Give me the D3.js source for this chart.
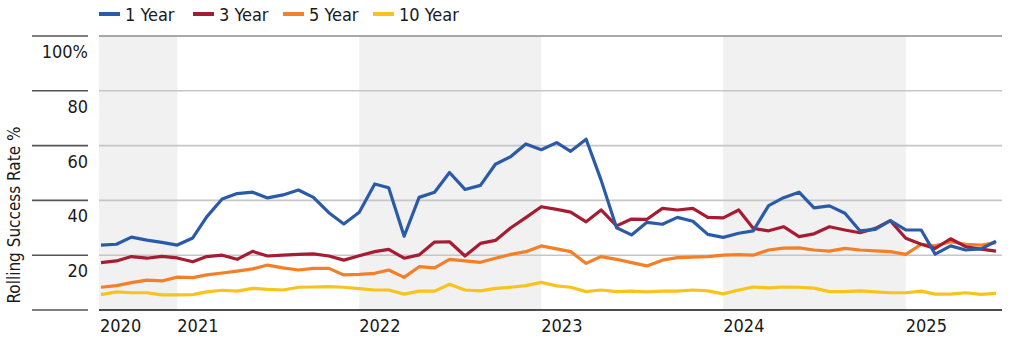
<!DOCTYPE html>
<html>
<head>
<meta charset="utf-8">
<script src="https://cdn.jsdelivr.net/npm/d3@7"></script>
<style>
  html, body { margin: 0; padding: 0; background: #fff; }
  svg text { font-family: "Liberation Sans Narrow", "DejaVu Sans Condensed", "Arial Narrow", sans-serif; fill: #1a1a1a; }
</style>
</head>
<body>
<div id="viz"></div>
<script>
// monthly observations, Aug 2020 - Jul 2025
var startMonth = "2020-08";
var monthCount = 60;

var oneYear = [23.7, 24, 26.6, 25.5, 24.7, 23.7, 26.3, 34, 40.5, 42.5,
  43, 40.9, 42, 43.8, 41.1, 35.5, 31.4, 35.7, 46, 44.6,
  26.9, 41.1, 43, 50.2, 44, 45.5, 53.2, 56, 60.6, 58.5,
  61.1, 57.9, 62.3, 47.4, 30, 27.4, 32, 31.3, 33.8, 32.4,
  27.6, 26.5, 28, 28.9, 38.1, 41, 43, 37.3, 38, 35.3,
  28.9, 29.4, 32.6, 29.2, 29.2, 20.4, 23.4, 21.9, 22.3, 25.1];

var threeYear = [17.3, 17.9, 19.5, 18.9, 19.6, 19, 17.6, 19.5, 20, 18.5,
  21.4, 19.7, 20, 20.3, 20.5, 19.7, 18.2, 19.8, 21.3, 22.1,
  18.9, 20.1, 24.8, 24.9, 19.7, 24.3, 25.4, 30, 33.7, 37.7,
  36.7, 35.7, 32.2, 36.5, 30.7, 33.2, 33.1, 37.1, 36.5, 37.1,
  33.8, 33.6, 36.5, 29.8, 28.9, 30.4, 26.8, 27.8, 30.4, 29.2,
  28.2, 29.8, 32.6, 26.2, 24, 22.5, 26, 23.1, 22.2, 21.5];

var fiveYear = [8.3, 8.9, 10, 10.9, 10.6, 12, 11.8, 12.8, 13.5, 14.2,
  15, 16.4, 15.4, 14.6, 15.2, 15.2, 12.8, 13, 13.4, 14.6,
  11.9, 15.8, 15.4, 18.5, 17.9, 17.4, 18.9, 20.3, 21.3, 23.4,
  22.3, 21.3, 17, 19.5, 18.5, 17.3, 16.1, 18.2, 19.1, 19.3,
  19.5, 20, 20.2, 20, 21.9, 22.6, 22.7, 21.9, 21.5, 22.5,
  21.9, 21.6, 21.3, 20.3, 24, 23.4, 24.9, 24, 23.7, 24.6];

var tenYear = [5.6, 6.6, 6.3, 6.3, 5.5, 5.5, 5.6, 6.6, 7.2, 6.9,
  7.9, 7.5, 7.3, 8.3, 8.4, 8.5, 8.3, 7.8, 7.3, 7.3,
  5.8, 6.9, 6.9, 9.4, 7.3, 7, 7.9, 8.3, 8.9, 10.1,
  8.8, 8.3, 6.7, 7.3, 6.7, 6.9, 6.6, 6.9, 6.9, 7.3,
  7, 5.9, 7.3, 8.4, 8.1, 8.4, 8.3, 8, 6.7, 6.7,
  7, 6.6, 6.3, 6.3, 6.9, 5.8, 5.8, 6.3, 5.7, 6.1];

var seriesNames = ["1 Year", "3 Year", "5 Year", "10 Year"];
var seriesColors = ["#2b5ba8", "#a61c33", "#f47f26", "#f8c31c"];
var yTicks = [0, 20, 40, 60, 80, 100];
var yearTicks = [2020, 2021, 2022, 2023, 2024, 2025];
var shadedYears = [2020, 2022, 2024];

var width = 1014, height = 344;
var plotLeft = 99, plotRight = 1002, plotTop = 36, plotBottom = 310;

var parseMonth = d3.timeParse("%Y-%m");
var dates = d3.range(monthCount).map(function(i) {
  return d3.timeMonth.offset(parseMonth(startMonth), i);
});

var x = d3.scaleTime()
  .domain([dates[0], dates[dates.length - 1]])
  .range([101, 996]);

var y = d3.scaleLinear()
  .domain([0, 100])
  .range([plotBottom, plotTop]);

var svg = d3.select("#viz")
  .append("svg")
  .attr("width", width)
  .attr("height", height);

// alternating year bands
svg.selectAll("rect.band")
  .data(shadedYears)
  .enter().append("rect")
  .attr("class", "band")
  .attr("x", function(d) { return Math.max(plotLeft, x(new Date(d, 0, 1))); })
  .attr("y", plotTop)
  .attr("width", function(d) {
    var a = Math.max(plotLeft, x(new Date(d, 0, 1)));
    var b = Math.min(plotRight, x(new Date(d + 1, 0, 1)));
    return b - a;
  })
  .attr("height", plotBottom - plotTop)
  .attr("fill", "#f1f1f1");

// gridlines inside the plot
svg.selectAll("line.grid")
  .data(yTicks.filter(function(d) { return d > 0; }))
  .enter().append("line")
  .attr("class", "grid")
  .attr("x1", plotLeft).attr("x2", plotRight)
  .attr("y1", function(d) { return y(d); })
  .attr("y2", function(d) { return y(d); })
  .attr("stroke", function(d) { return d === 100 ? "#8c8c8c" : "#c6c6c6"; })
  .attr("stroke-width", 1.6);

// short rules over the tick labels
svg.selectAll("line.tickrule")
  .data(yTicks)
  .enter().append("line")
  .attr("class", "tickrule")
  .attr("x1", 32).attr("x2", 88)
  .attr("y1", function(d) { return y(d); })
  .attr("y2", function(d) { return y(d); })
  .attr("stroke", "#555")
  .attr("stroke-width", 1.6);

svg.selectAll("text.ylab")
  .data(yTicks.filter(function(d) { return d > 0; }))
  .enter().append("text")
  .attr("class", "ylab")
  .attr("x", 88)
  .attr("y", function(d) { return y(d) + 22; })
  .attr("text-anchor", "end")
  .attr("font-size", 18)
  .text(function(d) { return d === 100 ? "100%" : d; });

svg.append("text")
  .attr("transform", "translate(20," + 215 + ") rotate(-90)")
  .attr("text-anchor", "middle")
  .attr("font-size", 17)
  .text("Rolling Success Rate %");

// x baseline
svg.append("line")
  .attr("x1", plotLeft).attr("x2", plotRight)
  .attr("y1", plotBottom).attr("y2", plotBottom)
  .attr("stroke", "#111")
  .attr("stroke-width", 1.6);

svg.selectAll("text.xlab")
  .data(yearTicks)
  .enter().append("text")
  .attr("class", "xlab")
  .attr("x", function(d) { return Math.max(plotLeft + 1, x(new Date(d, 0, 1))); })
  .attr("y", 332)
  .attr("font-size", 18)
  .text(function(d) { return d; });

// the four rolling series
var allSeries = [oneYear, threeYear, fiveYear, tenYear];
var line = d3.line()
  .x(function(d, i) { return x(dates[i]); })
  .y(function(d) { return y(d); });

// draw the longer windows first so 1 Year sits on top
[3, 2, 1, 0].forEach(function(k) {
  svg.append("path")
    .datum(allSeries[k])
    .attr("d", line)
    .attr("fill", "none")
    .attr("stroke", seriesColors[k])
    .attr("stroke-width", 3.2)
    .attr("stroke-linejoin", "round");
});

// legend
var legendX = [99, 193, 283, 373];
var legend = svg.selectAll("g.legend")
  .data(seriesNames)
  .enter().append("g")
  .attr("class", "legend")
  .attr("transform", function(d, i) { return "translate(" + legendX[i] + ",14)"; });

legend.append("line")
  .attr("x1", 0).attr("x2", 21)
  .attr("stroke", function(d, i) { return seriesColors[i]; })
  .attr("stroke-width", 4);

legend.append("text")
  .attr("x", 26)
  .attr("y", 7)
  .attr("font-size", 18)
  .text(function(d) { return d; });
</script>
</body>
</html>
